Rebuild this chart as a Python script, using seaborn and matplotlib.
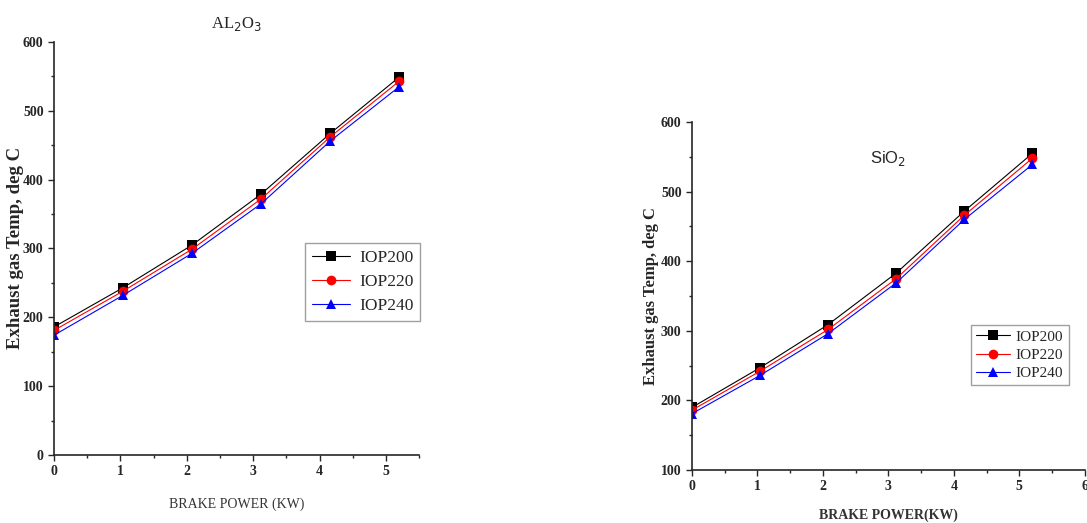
import numpy as np
import pandas as pd
import matplotlib
matplotlib.use("Agg")
import matplotlib.pyplot as plt
from matplotlib.ticker import MultipleLocator
import seaborn as sns

brake_power = [0.0, 1.04, 2.08, 3.12, 4.16, 5.2]
series = ["IOP200", "IOP220", "IOP240"]

al2o3_iop200 = [186, 243, 305, 379, 467, 549]
al2o3_iop220 = [181, 238, 299, 372, 462, 543]
al2o3_iop240 = [174, 232, 293, 365, 456, 535]

sio2_iop200 = [190, 247, 309, 383, 472, 555]
sio2_iop220 = [186, 242, 302, 375, 466, 548]
sio2_iop240 = [181, 236, 296, 369, 460, 539]

colors = ["black", "red", "blue"]
markers = ["s", "o", "^"]


def make_df(vals):
    rows = []
    for name, v in zip(series, vals):
        for x, y in zip(brake_power, v):
            rows.append({"bp": x, "temp": y, "series": name})
    return pd.DataFrame(rows)


df_al = make_df([al2o3_iop200, al2o3_iop220, al2o3_iop240])
df_si = make_df([sio2_iop200, sio2_iop220, sio2_iop240])

sns.set_style("ticks")
plt.rcParams["font.family"] = ["Liberation Serif", "DejaVu Serif"]

fig = plt.figure(figsize=(10.87, 5.23), dpi=100)
ax1 = fig.add_axes([0.0497, 0.130, 0.336, 0.790])
ax2 = fig.add_axes([0.6366, 0.1013, 0.3614, 0.6654])

palette = dict(zip(series, colors))
mk = dict(zip(series, markers))

for ax, df in [(ax1, df_al), (ax2, df_si)]:
    sns.lineplot(data=df, x="bp", y="temp", hue="series", style="series",
                 palette=palette, markers=mk, dashes=False, ax=ax,
                 linewidth=0.8, markersize=7, markeredgewidth=0)
    for s in ["top", "right"]:
        ax.spines[s].set_visible(False)
    ax.spines["left"].set_linewidth(1.2)
    ax.spines["bottom"].set_linewidth(1.2)
    ax.xaxis.set_minor_locator(MultipleLocator(0.5))
    ax.yaxis.set_minor_locator(MultipleLocator(50))
    ax.tick_params(which="major", direction="out", length=4, width=1, labelsize=10)
    ax.tick_params(which="minor", direction="out", length=2.5, width=1)

# left panel
ax1.set_xlim(0, 5.5)
ax1.set_ylim(0, 600)
ax1.set_xticks([0, 1, 2, 3, 4, 5])
ax1.set_yticks([0, 100, 200, 300, 400, 500, 600])
for lab in ax1.get_xticklabels() + ax1.get_yticklabels():
    lab.set_fontweight("bold")
ax1.set_xlabel("BRAKE POWER (KW)", fontsize=10, color="#333333", labelpad=14)
ax1.set_ylabel("Exhaust gas Temp, deg C", fontsize=13.5, fontweight="bold", labelpad=-1)
ax1.set_title("AL$_2$O$_3$", fontsize=12, pad=10, x=0.5)
leg1 = ax1.legend(loc="upper left", bbox_to_anchor=(0.664, 0.534), fontsize=12.5,
                  frameon=True, fancybox=False, edgecolor="#888888",
                  handlelength=2.2, borderpad=0.4, labelspacing=0.45,
                  handletextpad=0.5)

# right panel
ax2.set_xlim(0, 6)
ax2.set_ylim(100, 600)
ax2.set_xticks([0, 1, 2, 3, 4, 5, 6])
ax2.set_yticks([100, 200, 300, 400, 500, 600])
for lab in ax2.get_xticklabels() + ax2.get_yticklabels():
    lab.set_fontweight("bold")
ax2.set_xlabel("BRAKE POWER(KW)", fontsize=10, fontweight="bold", color="#333333", labelpad=11)
ax2.set_ylabel("Exhaust gas Temp, deg C", fontsize=12, fontweight="bold", labelpad=1)
ax2.text(0.5, 0.895, "SiO$_2$", transform=ax2.transAxes, fontsize=12,
         family="Liberation Sans", ha="center", va="center")
leg2 = ax2.legend(loc="upper left", bbox_to_anchor=(0.69, 0.44), fontsize=11,
                  frameon=True, fancybox=False, edgecolor="#888888",
                  handlelength=2.2, borderpad=0.35, labelspacing=0.3,
                  handletextpad=0.4)

fig.savefig("out.png", dpi=100)
